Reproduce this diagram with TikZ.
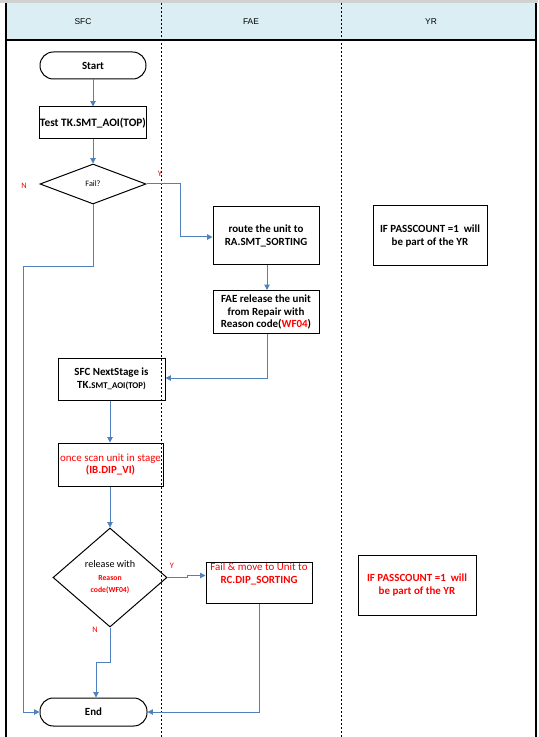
\documentclass[tikz,border=0pt]{standalone}
\usepackage{fontspec}
\setmainfont{Carlito}
\newfontfamily\hdrfont{Liberation Sans}
\usetikzlibrary{shapes.geometric,arrows.meta}
\definecolor{flowblue}{HTML}{4F81BD}
\definecolor{hdrblue}{HTML}{DAEEF3}
\definecolor{alertred}{HTML}{FF0000}
\newcommand\bodyfs{\fontsize{8.2}{9.6}\selectfont}
\newcommand\smallfs{\fontsize{5.8}{8}\selectfont}
\begin{document}
\begin{tikzpicture}[x=0.75pt,y=-0.75pt,
  box/.style={draw=black,line width=0.75pt,rectangle,inner sep=0pt,align=center,font=\bodyfs\bfseries},
  term/.style={box,rounded corners=10pt},
  dec/.style={draw=black,line width=0.75pt,diamond,inner sep=0pt,align=center},
  flow/.style={draw=flowblue,line width=0.75pt,-{Triangle[length=4pt,width=4pt]}},
  branchlbl/.style={text=alertred,font=\fontsize{6.2}{7}\selectfont},
  hdr/.style={font=\hdrfont\fontsize{6.3}{7}\selectfont},
  lane/.style={line width=0.75pt,dash pattern=on 1.5pt off 1.5pt}]
\useasboundingbox (0,0) rectangle (538,737);

% swimlane frame and header
\fill[black!18] (0,0) rectangle (538,3);
\fill[hdrblue] (6,3) rectangle (536,40);
\draw[lane] (161,3) -- (161,737);
\draw[lane] (341,3) -- (341,737);
\draw[line width=1.6pt] (6,40) -- (536,40);
\draw[line width=1.6pt] (6,3) -- (6,737);
\draw[line width=1.6pt] (536,3) -- (536,737);
\node[hdr] (hsfc) at (83,22) {SFC};
\node[hdr] (hfae) at (251,22) {FAE};
\node[hdr] (hyr) at (431,22) {YR};

% SFC lane
\node[term,minimum width=79.5pt,minimum height=20.25pt] (start) at (93,65.5) {Start};
\node[box,minimum width=79.5pt,minimum height=24pt,font=\fontsize{8.5}{10}\selectfont\bfseries] (test) at (93,123) {Test TK.SMT\_AOI(TOP)};
\node[dec,minimum width=79.5pt,minimum height=30pt,font=\fontsize{6.2}{7}\selectfont] (fail) at (93,184) {Fail?};
\node[box,minimum width=80.25pt,minimum height=31.5pt] (next) at (111.5,379) {SFC NextStage is\\TK.{\fontsize{6.6}{9.6}\selectfont SMT\_AOI(TOP)}};
\node[box,minimum width=78.75pt,minimum height=32.25pt,text=alertred] (scan) at (110.5,464.5) {{\mdseries once scan unit in stage}\\(IB.DIP\_VI)};
\node[dec,minimum width=85.5pt,minimum height=74.25pt,font=\fontsize{7.6}{9.4}\selectfont] (rel) at (110,577.5)
  {release with\\{\color{alertred}\bfseries\smallfs Reason}\\{\color{alertred}\bfseries\smallfs code(WF04)}};
\node[term,minimum width=80.25pt,minimum height=21pt] (end) at (93.5,712) {End};

% FAE lane
\node[box,minimum width=79.5pt,minimum height=43.5pt] (route) at (266,236) {route the unit to\\RA.SMT\_SORTING};
\node[box,minimum width=79.5pt,minimum height=32.25pt] (faerel) at (266,312) {FAE release the unit\\from Repair with\\Reason code({\color{alertred}WF04})};
\node[box,minimum width=79.5pt,minimum height=30.75pt] (failmv) at (259,582.5) {};
\node[anchor=north,inner sep=0pt,align=center,text=alertred,font=\bodyfs\bfseries] (failtxt) at ([yshift=-1.2pt]failmv.north) {{\mdseries Fail \& move to Unit to}\\RC.DIP\_SORTING};

% YR lane
\node[box,minimum width=85.5pt,minimum height=45pt] (yr1) at (430,236) {IF PASSCOUNT =1\ \ will\\be part of the YR};
\node[box,minimum width=88.5pt,minimum height=45pt,text=alertred] (yr2) at (417,585) {IF PASSCOUNT =1\ \ will\\be part of the YR};

% branch labels
\node[branchlbl] (y1) at (160,174) {Y};
\node[branchlbl] (n1) at (24,186) {N};
\node[branchlbl] (y2) at (172,566) {Y};
\node[branchlbl] (n2) at (95,630) {N};

% connectors
\draw[flow] (start) -- (test);
\draw[flow] (test) -- (fail);
\draw[flow] (fail.east) -- (180,184) -- (180,237) -- (route.west |- 0,237);
\draw[flow] (route.south -| 267,0) -- (faerel.north -| 267,0);
\draw[flow] (faerel.south -| 267,0) -- (267,378) -- (next.east |- 0,378);
\draw[flow] (next.south -| 110,0) -- (scan.north -| 110,0);
\draw[flow] (scan.south -| 110,0) -- (rel.north);
\draw[flow] (rel.east) -- (187,577.5) -- (187,575.5) -- (failmv.west |- 0,575.5);
\draw[flow] (failmv.south) -- (259,712) -- (end.east);
\draw[flow] (rel.south) -- (110,662) -- (96,662) -- (end.north -| 96,0);
\draw[flow] (fail.south) -- (93,267) -- (23,267) -- (23,712) -- (end.west);
\end{tikzpicture}
\end{document}
